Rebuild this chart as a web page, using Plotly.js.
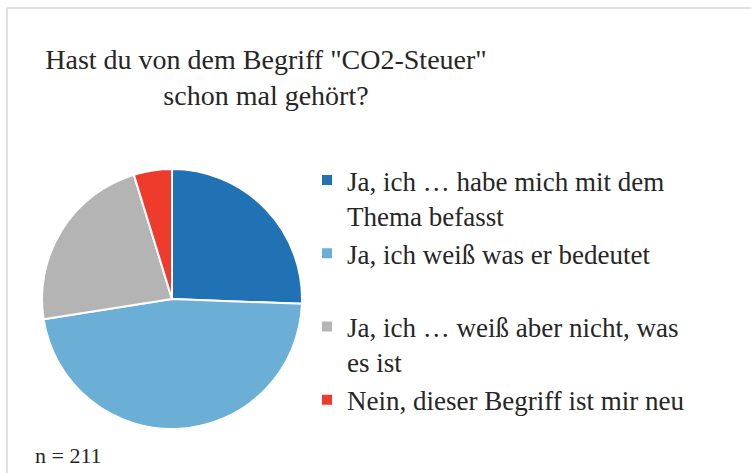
<!DOCTYPE html>
<html lang="de">
<head>
<meta charset="utf-8">
<script src="https://cdn.plot.ly/plotly-3.0.1.min.js"></script>
<style>
html,body{margin:0;padding:0;background:#fff;font-family:"Times New Roman";}
#chart{width:751px;height:473px;}
</style>
</head>
<body>
<div id="chart"></div>
<script>
const categories = [
  "Ja, ich … habe mich mit dem<br>Thema befasst",
  "Ja, ich weiß was er bedeutet<br> ",
  "Ja, ich … weiß aber nicht, was<br>es ist",
  "Nein, dieser Begriff ist mir neu"
];
const counts = [54, 99, 48, 10];
const colors = ["#2171b5", "#6baed6", "#b4b4b4", "#ef3b2c"];
const titleText = "Hast du von dem Begriff \"CO2-Steuer\"<br>schon mal gehört?";
const noteText = "n = 211";

const serifFont = "Times New Roman";

const trace = {
  type: "pie",
  labels: categories,
  values: counts,
  sort: false,
  direction: "clockwise",
  rotation: 0,
  marker: {colors: colors, line: {color: "#ffffff", width: 2}},
  textinfo: "none",
  domain: {x: [42/751, 302/751], y: [1 - 429/473, 1 - 169/473]}
};

const layout = {
  width: 751, height: 473,
  margin: {l: 0, r: 0, t: 0, b: 0},
  font: {family: serifFont, color: "#262626"},
  title: {
    text: titleText,
    font: {family: serifFont, size: 28, color: "#262626"},
    x: 266/751, xanchor: "center",
    y: 1 - 69/473, yanchor: "middle"
  },
  showlegend: true,
  legend: {
    x: 307/751, xanchor: "left",
    y: 1 - 156/473, yanchor: "top",
    valign: "top",
    font: {family: serifFont, size: 27, color: "#262626"}
  },
  annotations: [{
    text: noteText, showarrow: false,
    xref: "paper", yref: "paper",
    x: 33/751, xanchor: "left",
    y: 1 - 455/473, yanchor: "middle",
    font: {family: serifFont, size: 22, color: "#262626"}
  }],
  shapes: [
    {type: "line", xref: "paper", yref: "paper", x0: 7/751, x1: 1, y0: 1 - 8/473, y1: 1 - 8/473, line: {color: "#d9d9d9", width: 1.5}},
    {type: "line", xref: "paper", yref: "paper", x0: 7/751, x1: 7/751, y0: 1 - 8/473, y1: 0, line: {color: "#d9d9d9", width: 1.5}}
  ]
};

Plotly.newPlot("chart", [trace], layout, {staticPlot: true});
</script>
</body>
</html>
